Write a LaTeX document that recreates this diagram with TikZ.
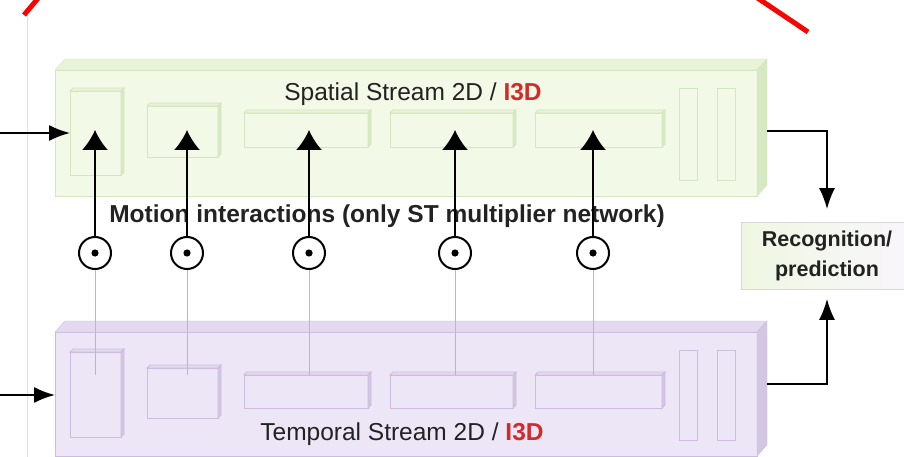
\documentclass[tikz,border=0pt]{standalone}
\usepackage{fontspec}
\setmainfont{Liberation Sans}
\usepackage{tikz}
\usetikzlibrary{arrows,arrows.meta,calc,positioning}
\definecolor{texto}{HTML}{222222}
\definecolor{rojo}{HTML}{D42A2A}
\definecolor{verdefr}{HTML}{F2F9E6}
\definecolor{verdetapa}{HTML}{E8F3D7}
\definecolor{verdelado}{HTML}{D6E9C2}
\definecolor{verdeborde}{HTML}{D6E6C0}
\definecolor{lilafr}{HTML}{EDE6F7}
\definecolor{lilatapa}{HTML}{E3D9F1}
\definecolor{lilalado}{HTML}{D2C6E3}
\definecolor{lilaborde}{HTML}{CDBDDD}
\tikzstyle{capaesp}=[rectangle,draw=verdeborde,fill=verdefr,inner sep=0,outer sep=0]
\tikzstyle{capatemp}=[rectangle,draw=lilaborde,fill=lilafr,inner sep=0,outer sep=0]
\tikzstyle{bloqueesp}=[capaesp,line width=0.8]
\tikzstyle{bloquetemp}=[capatemp,line width=0.8]
\tikzstyle{mult}=[circle,draw=black,line width=2,minimum size=32,inner sep=0,fill=white,
  path picture={\fill[black] (path picture bounding box.center) circle (3.6);}]
\tikzstyle{mot}=[line width=1.8,-{Latex[length=20pt,width=26pt]}]
\tikzstyle{flecha}=[line width=1.8,-{Latex[length=21pt,width=16pt]}]
\tikzstyle{enlace}=[draw=gray!55,line width=0.8]
\tikzstyle{titulo}=[anchor=base,text=texto,font=\fontsize{24.5}{29}\selectfont]
% caras superior y lateral de un bloque con volumen
\newcommand{\volumen}[5]{%
  \draw[#4] (#1.north west) -- ++(#2,-#3) -- ($(#1.north east)+(#2,-#3)$) -- (#1.north east) -- cycle;
  \draw[#5] (#1.north east) -- ++(#2,-#3) -- ($(#1.south east)+(#2,-#3)$) -- (#1.south east) -- cycle;}
\begin{document}
\begin{tikzpicture}[x=1pt,y=-1pt]
  \useasboundingbox (0,0) rectangle (904,457);
  \draw[gray!25,line width=0.8] (27,15) -- (27,457);
  \draw[red,line width=5] (24,15) -- (40,-4);
  \draw[red,line width=5] (756,-3) -- (808,32);

  % flujo espacial
  \node[capaesp,minimum width=702,minimum height=126,anchor=north west] (esp) at (55,70) {};
  \volumen{esp}{10}{11}{draw=verdeborde,fill=verdetapa}{draw=verdeborde,fill=verdelado}
  \node[bloqueesp,minimum width=51,minimum height=84,anchor=north west] (e1) at (70,91) {};
  \node[bloqueesp,minimum width=71,minimum height=51,anchor=north west] (e2) at (147,106) {};
  \node[bloqueesp,minimum width=124,minimum height=34,anchor=north west] (e3) at (244,113) {};
  \node[bloqueesp,minimum width=123,minimum height=34,anchor=north west] (e4) at (390,113) {};
  \node[bloqueesp,minimum width=127,minimum height=34,anchor=north west] (e5) at (535,113) {};
  \volumen{e1}{3}{3}{bloqueesp,fill=verdetapa}{bloqueesp,fill=verdelado}
  \volumen{e2}{3}{3}{bloqueesp,fill=verdetapa}{bloqueesp,fill=verdelado}
  \volumen{e3}{3}{3}{bloqueesp,fill=verdetapa}{bloqueesp,fill=verdelado}
  \volumen{e4}{3}{3}{bloqueesp,fill=verdetapa}{bloqueesp,fill=verdelado}
  \volumen{e5}{3}{3}{bloqueesp,fill=verdetapa}{bloqueesp,fill=verdelado}
  \node[bloqueesp,minimum width=18,minimum height=92,anchor=north west] (ef1) at (679,88) {};
  \node[bloqueesp,minimum width=18,minimum height=92] (ef2) [right=20 of ef1] {};
  \node[titulo] (tesp) at (413,101) {Spatial Stream 2D / \textcolor{rojo}{\textbf{I3D}}};

  % flujo temporal
  \node[capatemp,minimum width=702,minimum height=124,anchor=north west] (tmp) at (55,332) {};
  \volumen{tmp}{10}{11}{draw=lilaborde,fill=lilatapa}{draw=lilaborde,fill=lilalado}
  \node[bloquetemp,minimum width=51,minimum height=85,anchor=north west] (t1) at (70,352) {};
  \node[bloquetemp,minimum width=71,minimum height=50,anchor=north west] (t2) at (147,368) {};
  \node[bloquetemp,minimum width=124,minimum height=33,anchor=north west] (t3) at (244,375) {};
  \node[bloquetemp,minimum width=123,minimum height=33,anchor=north west] (t4) at (390,375) {};
  \node[bloquetemp,minimum width=127,minimum height=33,anchor=north west] (t5) at (535,375) {};
  \volumen{t1}{3}{3}{bloquetemp,fill=lilatapa}{bloquetemp,fill=lilalado}
  \volumen{t2}{3}{3}{bloquetemp,fill=lilatapa}{bloquetemp,fill=lilalado}
  \volumen{t3}{3}{3}{bloquetemp,fill=lilatapa}{bloquetemp,fill=lilalado}
  \volumen{t4}{3}{3}{bloquetemp,fill=lilatapa}{bloquetemp,fill=lilalado}
  \volumen{t5}{3}{3}{bloquetemp,fill=lilatapa}{bloquetemp,fill=lilalado}
  \node[bloquetemp,minimum width=18,minimum height=90,anchor=north west] (tf1) at (679,350) {};
  \node[bloquetemp,minimum width=18,minimum height=90] (tf2) [right=20 of tf1] {};
  \node[titulo] (ttmp) at (402,440) {Temporal Stream 2D / \textcolor{rojo}{\textbf{I3D}}};

  % interacciones de movimiento
  \node[titulo,font=\fontsize{24.5}{29}\selectfont\bfseries] (tmot) at (387,222)
    {Motion interactions (only ST multiplier network)};
  \node[mult] (m1) at (95,253) {};
  \node[mult] (m2) at (187,253) {};
  \node[mult] (m3) at (309,253) {};
  \node[mult] (m4) at (455,253) {};
  \node[mult] (m5) at (593,253) {};
  \draw[enlace] (m1) -- (m1 |- t3.north);
  \draw[enlace] (m2) -- (m2 |- t3.north);
  \draw[enlace] (m3) -- (m3 |- t3.north);
  \draw[enlace] (m4) -- (m4 |- t3.north);
  \draw[enlace] (m5) -- (m5 |- t3.north);
  \draw[mot] (m1) -- (m1 |- e3.center);
  \draw[mot] (m2) -- (m2 |- e3.center);
  \draw[mot] (m3) -- (m3 |- e3.center);
  \draw[mot] (m4) -- (m4 |- e3.center);
  \draw[mot] (m5) -- (m5 |- e3.center);

  % entradas y salida
  \node[draw=black!15,line width=0.8,left color=verdefr!70!verdetapa,right color=lilafr!35,
    minimum width=172,minimum height=67,align=center,text=texto,
    font=\fontsize{21.5}{30}\selectfont\bfseries] (rec) at (827,256) {Recognition/\\prediction};
  \coordinate (ent1) at (0,133);
  \coordinate (ent2) at (0,395);
  \coordinate (sal1) at (767,131);
  \coordinate (sal2) at (767,384);
  \draw[flecha] (ent1) -- (e1);
  \draw[flecha] (ent2) -- (ent2 -| tmp.west);
  \draw[flecha,shorten >=13] (sal1) -| (rec.north);
  \draw[flecha,shorten >=9] (sal2) -| (rec.south);
\end{tikzpicture}
\end{document}
